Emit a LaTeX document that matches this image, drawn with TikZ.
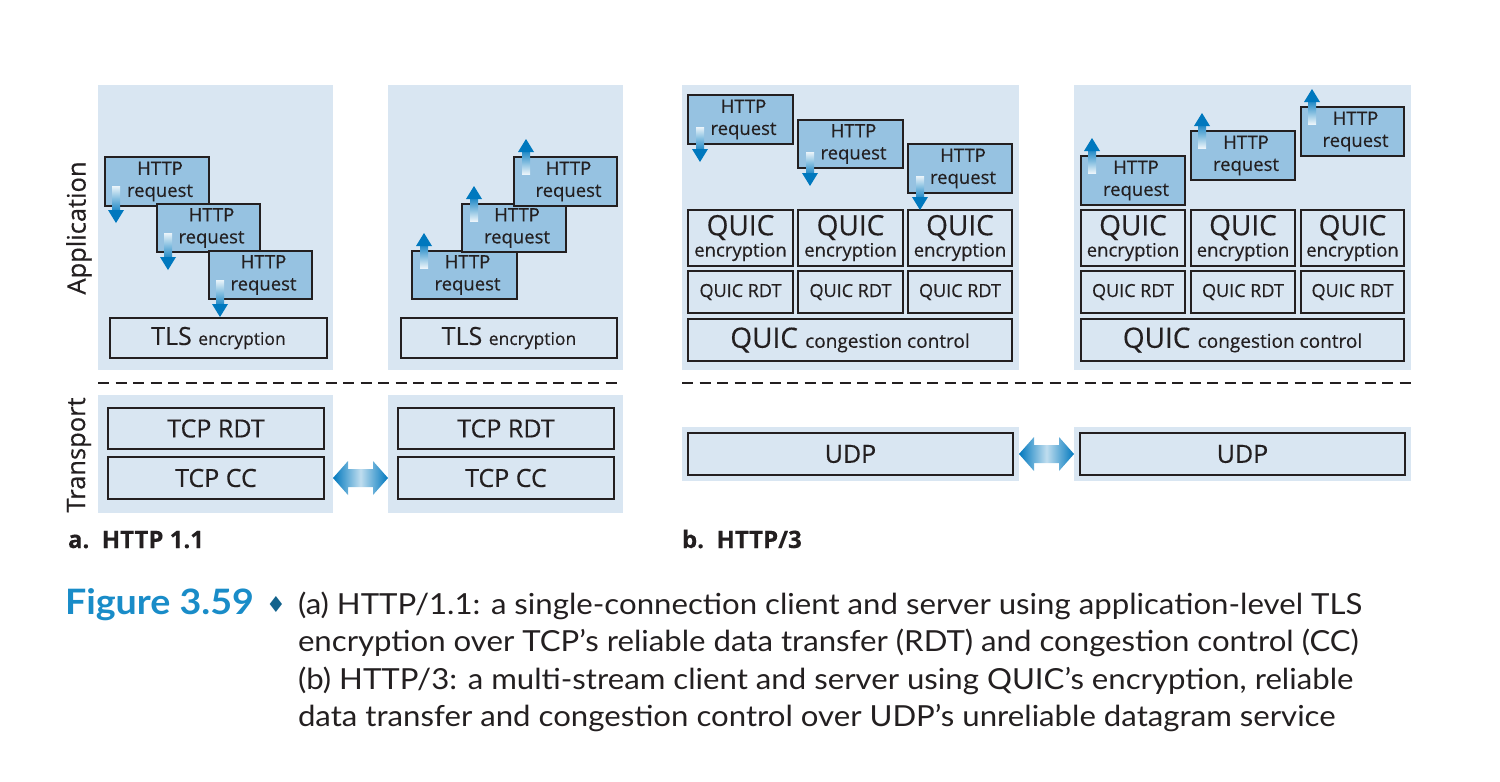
\documentclass[tikz,border=0pt]{standalone}
\usepackage{fontspec}
\setmainfont[FakeBold=0.35]{Open Sans}
\newfontfamily\capfont[FakeStretch=1.075]{Lato}
\newfontfamily\symfont{DejaVu Sans}
\usetikzlibrary{calc}
\definecolor{bgblue}{RGB}{217,230,242}
\definecolor{reqblue}{RGB}{150,194,225}
\definecolor{arrblue}{RGB}{0,120,190}
\definecolor{figblue}{RGB}{25,140,200}
\definecolor{ink}{RGB}{35,31,32}
\newcommand\fs[1]{\fontsize{#1}{#1}\selectfont}
\newcommand\bx[7]{\node[#2, minimum width={#5pt-#3pt}, minimum height={#6pt-#4pt}] (#1) at ({(#3+#5)/2},{(#4+#6)/2}) {#7};}
\newcommand\darr[3]{%
  \shade[top color=white!92!arrblue, bottom color=arrblue!85] (#1-4,#2) rectangle (#1+4,#3-13);
  \fill[arrblue] (#1-8,#3-13) -- (#1+8,#3-13) -- (#1,#3) -- cycle;}
\newcommand\uarr[3]{%
  \shade[top color=arrblue!85, bottom color=white!92!arrblue] (#1-4,#2+13) rectangle (#1+4,#3);
  \fill[arrblue] (#1-8,#2+13) -- (#1+8,#2+13) -- (#1,#2) -- cycle;}
\newcommand\harr[1]{%
  \shade[shift={(#1)}, left color=arrblue, right color=arrblue, middle color=white!75!arrblue]
   (-27.5,0) -- (-12.5,-17) -- (-12.5,-9) -- (12.5,-9) -- (12.5,-17) -- (27.5,0)
   -- (12.5,17) -- (12.5,9) -- (-12.5,9) -- (-12.5,17) -- cycle;}
\newcommand\reqtxt{\hspace*{6pt}HTTP\\\hspace*{6pt}request}
\newcommand\enctxt{\fs{28}QUIC\\[2pt]\fs{18.5}encryption}
\begin{document}
\begin{tikzpicture}[x=1pt,y=-1pt,
  every node/.style={inner sep=0pt, outer sep=0pt, text=ink},
  bg/.style={fill=bgblue, draw=none},
  layer/.style={draw=ink, line width=1.7pt, fill=bgblue, align=center},
  req/.style={draw=ink, line width=1.7pt, fill=reqblue, align=center, font=\fontsize{18.5}{22}\selectfont},
  sep/.style={draw=ink, line width=2.2pt, dash pattern=on 11pt off 6.5pt}]
\useasboundingbox (0,0) rectangle (1500,782);
% ---------- panel a ----------
\bx{appAL}{bg}{98}{85}{333}{370}{}
\bx{appAR}{bg}{388}{85}{623}{370}{}
\bx{tlsL}{layer}{110}{318}{327}{358}{\fs{25}TLS {\fs{17.5}encryption}}
\bx{tlsR}{layer}{401}{318}{617}{358}{\fs{25}TLS {\fs{17.5}encryption}}
\bx{rqAL1}{req}{105}{157}{209}{206}{\reqtxt}
\darr{116}{186}{223}
\bx{rqAL2}{req}{157}{204}{260}{252}{\reqtxt}
\darr{168}{233}{270}
\bx{rqAL3}{req}{209}{251}{312}{299}{\reqtxt}
\darr{220}{280}{317}
\bx{rqAR1}{req}{412}{251}{517}{299}{\reqtxt}
\uarr{424}{233}{268}
\bx{rqAR2}{req}{462}{204}{566}{252}{\reqtxt}
\uarr{474}{186}{221}
\bx{rqAR3}{req}{514}{157}{617}{206}{\reqtxt}
\uarr{526}{139}{174}
\node[rotate=90, font=\fs{25.5}] (lapp) at (79,228) {Application};
\node[rotate=90, font=\fs{25.5}] (ltr) at (79,455) {Transport};
\coordinate (dA1) at (98,383); \coordinate (dA2) at (623,383);
\draw[sep] (dA1) -- (dA2);
\bx{trAL}{bg}{98}{395}{333}{513}{}
\bx{trAR}{bg}{388}{395}{623}{513}{}
\bx{rdtAL}{layer}{108}{408}{324}{449}{\fs{25}TCP RDT}
\bx{ccAL}{layer}{108}{457}{324}{499}{\fs{25}TCP CC}
\bx{rdtAR}{layer}{398}{408}{614}{449}{\fs{25}TCP RDT}
\bx{ccAR}{layer}{398}{457}{614}{499}{\fs{25}TCP CC}
\coordinate (mA) at ($(trAL.east |- ccAL.center)!0.5!(trAR.west |- ccAR.center)$);
\harr{mA}
\node[anchor=base west, font=\bfseries\fs{24}] (labA) at (68,548) {a.\ \ HTTP 1.1};
% ---------- panel b ----------
\bx{appBL}{bg}{682}{85}{1019}{370}{}
\bx{appBR}{bg}{1074}{85}{1411}{370}{}
\foreach \n/\a/\b in {1/688/793, 2/798/903, 3/908/1012}{
  \bx{encL\n}{layer}{\a}{210}{\b}{266}{\enctxt}
  \bx{rdtL\n}{layer}{\a}{271}{\b}{313}{\fs{18}QUIC RDT}
}
\foreach \n/\a/\b in {1/1081/1185, 2/1191/1295, 3/1301/1404}{
  \bx{encR\n}{layer}{\a}{210}{\b}{266}{\enctxt}
  \bx{rdtR\n}{layer}{\a}{271}{\b}{313}{\fs{18}QUIC RDT}
}
\bx{ccBL}{layer}{688}{319}{1012}{361}{\fs{28}QUIC {\fs{19}congestion control}}
\bx{ccBR}{layer}{1081}{319}{1404}{361}{\fs{28}QUIC {\fs{19}congestion control}}
\bx{rqBL1}{req}{688}{95}{793}{144}{\reqtxt}
\darr{700}{127}{162}
\bx{rqBL2}{req}{798}{120}{903}{168}{\reqtxt}
\darr{810}{152}{186}
\bx{rqBL3}{req}{908}{144}{1012}{193}{\reqtxt}
\darr{920}{176}{210}
\bx{rqBR1}{req}{1081}{156}{1185}{205}{\reqtxt}
\uarr{1092}{138}{173}
\bx{rqBR2}{req}{1191}{131}{1295}{180}{\reqtxt}
\uarr{1202}{113}{148}
\bx{rqBR3}{req}{1301}{107}{1404}{156}{\reqtxt}
\uarr{1312}{89}{124}
\coordinate (dB1) at (682,383); \coordinate (dB2) at (1411,383);
\draw[sep] (dB1) -- (dB2);
\bx{trBL}{bg}{682}{427}{1019}{481}{}
\bx{trBR}{bg}{1074}{427}{1411}{481}{}
\bx{udpL}{layer}{688}{433}{1013}{475}{\fs{25}UDP}
\bx{udpR}{layer}{1080}{433}{1405}{475}{\fs{25}UDP}
\coordinate (mB) at ($(trBL.east)!0.5!(trBR.west)$);
\harr{mB}
\node[anchor=base west, font=\bfseries\fs{24}] (labB) at (682,548) {b.\ \ HTTP/3};
% ---------- caption ----------
\node[anchor=base west, font=\capfont\bfseries\fs{35}, text=figblue] (fig) at (65,614) {Figure 3.59};
\node[anchor=base, font=\symfont\fs{22}, text=figblue!70!black] (dia) at (276,612) {♦};
\node[anchor=base west, font=\capfont\fs{29}] (c1) at (298,614) {(a) HTTP/1.1: a single-connection client and server using application-level TLS};
\node[anchor=base west, font=\capfont\fs{29}] (c2) at (298,651) {encryption over TCP’s reliable data transfer (RDT) and congestion control (CC)};
\node[anchor=base west, font=\capfont\fs{29}] (c3) at (298,689) {(b) HTTP/3: a multi-stream client and server using QUIC’s encryption, reliable};
\node[anchor=base west, font=\capfont\fs{29}] (c4) at (298,726) {data transfer and congestion control over UDP’s unreliable datagram service};
\end{tikzpicture}
\end{document}
